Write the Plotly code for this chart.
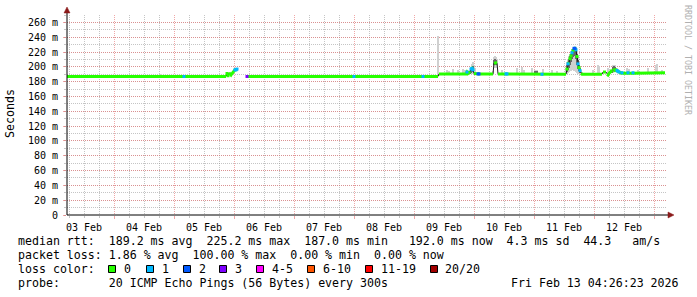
import plotly.graph_objects as go

# ---------------- data ----------------
x_start = "2026-02-03 05:12"
x_end = "2026-02-13 05:12"

# median rtt (ms) with packet-loss level (0 = none, 1, 2, 3 ... pings lost)
med_time = [
    "2026-02-03 05:12", "2026-02-04 18:24", "2026-02-05 03:36", "2026-02-05 04:00", "2026-02-05 04:24",
    "2026-02-05 20:48", "2026-02-05 21:12", "2026-02-05 21:36", "2026-02-05 22:00", "2026-02-05 22:24",
    "2026-02-05 22:48", "2026-02-05 23:12", "2026-02-05 23:36", "2026-02-06 00:00", "2026-02-06 00:24",
    "2026-02-06 00:48", "2026-02-06 01:12", "2026-02-06 03:00",
    "2026-02-06 05:12", "2026-02-06 05:36", "2026-02-07 23:36", "2026-02-08 00:00", "2026-02-08 00:24",
    "2026-02-09 03:12", "2026-02-09 03:36", "2026-02-09 04:00", "2026-02-09 09:36", "2026-02-09 10:00",
    "2026-02-09 20:48", "2026-02-09 21:12", "2026-02-09 21:36", "2026-02-09 22:00", "2026-02-09 22:24",
    "2026-02-09 22:48", "2026-02-09 23:12", "2026-02-09 23:36", "2026-02-10 00:00", "2026-02-10 01:12",
    "2026-02-10 01:36", "2026-02-10 02:00", "2026-02-10 02:24", "2026-02-10 07:36", "2026-02-10 08:00",
    "2026-02-10 08:24", "2026-02-10 08:48", "2026-02-10 09:12", "2026-02-10 09:36", "2026-02-10 12:24",
    "2026-02-10 12:48", "2026-02-10 13:12", "2026-02-10 13:36", "2026-02-11 02:48", "2026-02-11 03:12",
    "2026-02-11 03:36", "2026-02-11 12:48", "2026-02-11 13:12", "2026-02-11 13:36", "2026-02-11 14:00",
    "2026-02-11 14:24", "2026-02-11 14:48", "2026-02-11 15:12", "2026-02-11 15:36", "2026-02-11 16:00",
    "2026-02-11 16:24", "2026-02-11 16:48", "2026-02-11 17:12", "2026-02-11 17:36", "2026-02-11 18:00",
    "2026-02-11 18:24", "2026-02-11 18:48", "2026-02-11 19:12", "2026-02-12 03:12", "2026-02-12 03:36",
    "2026-02-12 04:00", "2026-02-12 04:24", "2026-02-12 04:48", "2026-02-12 05:12", "2026-02-12 05:36",
    "2026-02-12 06:00", "2026-02-12 06:24", "2026-02-12 06:48", "2026-02-12 07:12", "2026-02-12 07:36",
    "2026-02-12 08:00", "2026-02-12 08:24", "2026-02-12 08:48", "2026-02-12 09:12", "2026-02-12 09:36",
    "2026-02-12 10:00", "2026-02-12 10:24", "2026-02-12 10:48", "2026-02-12 11:12", "2026-02-12 11:36",
    "2026-02-12 13:12", "2026-02-12 13:36", "2026-02-12 14:00", "2026-02-12 15:12", "2026-02-12 15:36",
    "2026-02-12 16:00", "2026-02-13 04:24",
]
med_value = [
    187.0, 187.0, 187.0, 187.0, 187.0,
    187.0, 191.0, 188.0, 192.0, 190.0,
    189.0, 191.0, 193.0, 194.0, 196.0,
    196.0, 197.0, None,
    187.0, 187.0, 187.0, 187.0, 187.0,
    187.0, 187.0, 187.0, 187.0, 190.5,
    190.5, 193.0, 191.0, 192.0, 194.0,
    197.0, 198.0, 196.0, 191.0, 190.5,
    190.5, 190.5, 190.5, 190.5, 205.0,
    205.5, 205.5, 205.0, 190.5, 190.5,
    190.5, 190.5, 190.5, 190.0, 190.0,
    190.0, 190.0, 197.0, 204.0, 206.0,
    211.0, 215.0, 219.0, 222.0, 225.0,
    225.0, 223.0, 214.0, 204.0, 199.0,
    195.0, 191.0, 190.0, 190.0, 193.0,
    193.0, 192.0, 193.0, 190.0, 189.0,
    191.0, 193.0, 194.0, 192.0, 195.0,
    196.0, 195.0, 196.0, 195.0, 194.0,
    193.0, 191.5, 191.5, 192.0, 191.5,
    191.5, 192.0, 191.5, 191.5, 192.0,
    191.5, 192.0,
]
med_loss = [
    0, 0, 0, 1, 0,
    0, 0, 0, 0, 0,
    0, 0, 0, 0, 1,
    1, 1, 0,
    3, 0, 0, 1, 0,
    0, 1, 0, 0, 0,
    0, 1, 0, 0, 0,
    1, 1, 1, 0, 0,
    2, 2, 0, 0, 0,
    0, 0, 0, 0, 0,
    1, 1, 0, 0, 1,
    0, 0, 0, 1, 0,
    0, 0, 1, 0, 2,
    2, 1, 0, 1, 0,
    1, 0, 0, 0, 0,
    0, 0, 0, 0, 0,
    0, 0, 0, 0, 0,
    0, 0, 0, 1, 1,
    1, 0, 0, 1, 0,
    0, 1, 0, 0, 1,
    0, 0,
]

# smoke: spread of the 20 pings (outer = min..max, inner = dense core)
smoke_time = [
    "2026-02-04 18:48", "2026-02-09 09:36", "2026-02-09 13:12", "2026-02-09 14:00", "2026-02-09 15:36",
    "2026-02-09 17:36", "2026-02-09 19:36", "2026-02-09 20:24", "2026-02-09 22:24", "2026-02-09 22:48",
    "2026-02-09 23:12", "2026-02-09 23:36", "2026-02-10 00:00", "2026-02-10 00:24", "2026-02-10 07:36",
    "2026-02-10 08:00", "2026-02-10 08:24", "2026-02-10 08:48", "2026-02-10 09:12", "2026-02-10 11:12",
    "2026-02-10 17:12", "2026-02-10 19:12", "2026-02-10 20:00", "2026-02-10 23:12", "2026-02-11 00:24",
    "2026-02-11 00:48", "2026-02-11 01:12", "2026-02-11 03:36", "2026-02-11 07:12", "2026-02-11 09:12",
    "2026-02-11 12:48", "2026-02-11 13:12", "2026-02-11 13:36", "2026-02-11 14:00", "2026-02-11 14:24",
    "2026-02-11 14:48", "2026-02-11 15:12", "2026-02-11 15:36", "2026-02-11 16:00", "2026-02-11 16:24",
    "2026-02-11 16:48", "2026-02-11 17:12", "2026-02-11 17:36", "2026-02-11 18:00", "2026-02-11 18:24",
    "2026-02-11 18:48", "2026-02-11 19:12", "2026-02-11 23:36", "2026-02-12 01:36", "2026-02-12 02:00",
    "2026-02-12 05:36", "2026-02-12 07:36", "2026-02-12 08:00", "2026-02-12 08:24", "2026-02-12 09:12",
    "2026-02-12 13:12", "2026-02-12 14:00", "2026-02-12 17:36", "2026-02-12 21:36", "2026-02-13 00:48",
    "2026-02-13 01:12", "2026-02-13 03:12",
]
smoke_lo = [
    187, 187, 190.5, 190.5, 190.5,
    190.5, 190.5, 190.5, 190, 190,
    190, 190, 190, 190, 190.5,
    200, 198, 200, 199, 190.5,
    190.5, 190, 190, 190, 189,
    189, 189, 190, 190, 190,
    190, 191, 192, 193, 194,
    195, 196, 196, 195, 194,
    193, 192, 191, 190, 190,
    189, 189, 190, 190, 190,
    190, 192, 193, 193, 192,
    191.5, 191.5, 191.5, 191.5, 191.5,
    191.5, 191.5,
]
smoke_hi = [
    191, 242, 196, 195, 197,
    196, 197, 196, 196, 198,
    204, 206, 203, 198, 195,
    213, 214, 213, 210, 196,
    198, 200, 196, 199, 196,
    196, 196, 197, 196, 195,
    198, 206, 210, 214, 218,
    221, 224, 226, 227, 227,
    226, 222, 214, 207, 201,
    196, 193, 196, 202, 201,
    199, 202, 203, 202, 199,
    198, 197, 196, 198, 203,
    204, 196,
]
smoke_in_lo = [
    None, None, None, None, None,
    None, None, None, 191, 192,
    194, 193, None, None, None,
    203, 203, 203, None, None,
    None, None, None, None, 190,
    190, 190, None, None, None,
    None, 193, 196, 198, 202,
    206, 210, 213, 215, 214,
    210, 203, 197, 194, 192,
    None, None, None, None, None,
    None, 194, 195, 195, None,
    None, None, None, None, None,
    None, None,
]
smoke_in_hi = [
    None, None, None, None, None,
    None, None, None, 195, 196,
    200, 201, None, None, None,
    209, 210, 209, None, None,
    None, None, None, None, 195,
    195, 195, None, None, None,
    None, 203, 207, 211, 215,
    218, 222, 224, 226, 226,
    224, 218, 209, 203, 198,
    None, None, None, None, None,
    None, 200, 201, 200, None,
    None, None, None, None, None,
    None, None,
]

y_tick_vals = [0, 20, 40, 60, 80, 100, 120, 140, 160, 180, 200, 220, 240, 260]
y_tick_text = ["0", "20 m", "40 m", "60 m", "80 m", "100 m", "120 m", "140 m", "160 m",
               "180 m", "200 m", "220 m", "240 m", "260 m"]

loss_labels = ["0", "1", "2", "3", "4-5", "6-10", "11-19", "20/20"]
loss_colors = ["#26ff00", "#00b8ff", "#0059ff", "#7e00ff", "#ff00ff", "#ff5500", "#ff0000", "#a10000"]

legend_lines = [
    "median rtt:  189.2 ms avg  225.2 ms max  187.0 ms min   192.0 ms now  4.3 ms sd  44.3   am/s",
    "packet loss: 1.86 % avg  100.00 % max  0.00 % min  0.00 % now",
    "loss color:",
    "probe:       20 ICMP Echo Pings (56 Bytes) every 300s",
]
stamp_text = "Fri Feb 13 04:26:23 2026"
watermark = "RRDTOOL / TOBI OETIKER"
y_title = "Seconds"

# ---------------- layout helpers (pixel -> paper) ----------------
W, H = 697, 297
PL, PR, PT, PB = 67, 667, 15, 215


def xp(px):
    return (px - PL) / (PR - PL)


def yp(py):
    return (PB - py) / (PB - PT)


MONO = "DejaVu Sans Mono"
PIX_MS = 24 * 60 * 1000  # one pixel column = 24 minutes
STEP = 2.5               # larger jumps are drawn only by the thin median line

fig = go.Figure()

# smoke (outer)
fig.add_trace(go.Bar(
    x=smoke_time, base=smoke_lo, y=[h - l for h, l in zip(smoke_hi, smoke_lo)],
    width=[PIX_MS * 1.2] * len(smoke_time), marker=dict(color="#d0d0d0", line=dict(width=0)),
    hoverinfo="skip"))
# smoke (inner core)
in_x = [t for t, a in zip(smoke_time, smoke_in_lo) if a is not None]
in_lo = [a for a in smoke_in_lo if a is not None]
in_hi = [b for b in smoke_in_hi if b is not None]
fig.add_trace(go.Bar(
    x=in_x, base=in_lo, y=[h - l for h, l in zip(in_hi, in_lo)],
    width=[PIX_MS * 1.2] * len(in_x), marker=dict(color="#686868", line=dict(width=0)),
    hoverinfo="skip"))

# thin dark median line
fig.add_trace(go.Scatter(x=med_time, y=med_value, mode="lines",
                         line=dict(color="#1a1a1a", width=1), connectgaps=False, hoverinfo="skip"))


def linked(i, j):
    if j < 0 or j >= len(med_value):
        return False
    a, b = med_value[i], med_value[j]
    return a is not None and b is not None and abs(a - b) <= STEP


# thick green band (connect only small steps)
gx, gy = [], []
for i in range(len(med_time)):
    v = med_value[i]
    if v is None:
        gx.append(None); gy.append(None)
        continue
    if i > 0 and not linked(i, i - 1):
        gx.append(None); gy.append(None)
    gx.append(med_time[i]); gy.append(v)
fig.add_trace(go.Scatter(x=gx, y=gy, mode="lines", line=dict(color=loss_colors[0], width=3),
                         connectgaps=False, hoverinfo="skip"))

for lvl in range(len(loss_colors)):
    idx = [i for i in range(len(med_time))
           if med_loss[i] == lvl and med_value[i] is not None
           and (lvl > 0 or not (linked(i, i - 1) or linked(i, i + 1)))]
    if idx:
        fig.add_trace(go.Scatter(x=[med_time[i] for i in idx], y=[med_value[i] for i in idx],
                                 mode="markers",
                                 marker=dict(symbol="square", size=3, color=loss_colors[lvl],
                                             line=dict(width=0)),
                                 hoverinfo="skip"))

grid_major = "rgba(230,110,110,0.6)"
grid_minor = "rgba(140,140,140,0.5)"

fig.update_layout(
    width=W, height=H,
    margin=dict(l=PL, r=W - PR, t=PT, b=H - PB),
    paper_bgcolor="white", plot_bgcolor="white",
    showlegend=False, barmode="overlay", bargap=0,
    font=dict(family=MONO, size=10, color="#000000"),
    xaxis=dict(
        type="date", range=[x_start, x_end],
        tick0="2026-02-03", dtick=86400000, tickformat="%d %b", ticklabelmode="period",
        showgrid=True, gridcolor=grid_major, griddash="1px,1px", gridwidth=1,
        ticks="outside", ticklen=3, tickcolor=grid_major,
        tickfont=dict(family=MONO, size=10, color="#000000"),
        showline=False, zeroline=False,
        minor=dict(dtick=21600000, tick0="2026-02-03", showgrid=True, gridcolor=grid_minor,
                   griddash="1px,1px", ticks="outside", ticklen=2, tickcolor=grid_minor),
    ),
    yaxis=dict(
        range=[0, 270], tickvals=y_tick_vals, ticktext=y_tick_text,
        showgrid=True, gridcolor=grid_major, griddash="1px,1px", gridwidth=1,
        ticks="outside", ticklen=3, tickcolor=grid_major,
        tickfont=dict(family=MONO, size=10, color="#000000"),
        showline=False, zeroline=False, ticklabelstandoff=3,
        minor=dict(dtick=10, showgrid=True, gridcolor=grid_minor, griddash="1px,1px",
                   ticks="outside", ticklen=2, tickcolor=grid_minor),
    ),
)

shapes = []
# axis lines
shapes.append(dict(type="line", xref="paper", yref="paper", x0=0, x1=0, y0=0, y1=yp(12),
                   line=dict(color="#000000", width=1)))
shapes.append(dict(type="line", xref="paper", yref="paper", x0=0, x1=xp(669), y0=0, y1=0,
                   line=dict(color="#000000", width=1)))
# arrow heads
shapes.append(dict(type="path", xref="paper", yref="paper",
                   path=f"M {xp(64)},{yp(13)} L {xp(70)},{yp(13)} L {xp(67)},{yp(7)} Z",
                   fillcolor="#8b1a1a", line=dict(color="#8b1a1a", width=0.5)))
shapes.append(dict(type="path", xref="paper", yref="paper",
                   path=f"M {xp(668)},{yp(212)} L {xp(668)},{yp(218)} L {xp(674)},{yp(215)} Z",
                   fillcolor="#8b1a1a", line=dict(color="#8b1a1a", width=0.5)))

# loss colour boxes
box_x = [108, 146, 183, 219, 256, 307, 365, 430]
for bx, col in zip(box_x, loss_colors):
    shapes.append(dict(type="rect", xref="paper", yref="paper",
                       x0=xp(bx + 0.5), x1=xp(bx + 7.5), y0=yp(265.5), y1=yp(272.5),
                       fillcolor=col, line=dict(color="#000000", width=1)))
fig.update_layout(shapes=shapes)

NB = "\u00a0"
ann = []
line_y = [241, 255, 269, 283]
for txt, ly in zip(legend_lines, line_y):
    ann.append(dict(text=txt.replace(" ", NB), xref="paper", yref="paper", x=xp(15.5), y=yp(ly),
                    xanchor="left", yanchor="middle", showarrow=False,
                    font=dict(family=MONO, size=11.6, color="#000000")))
for bx, lab in zip(box_x, loss_labels):
    ann.append(dict(text=lab, xref="paper", yref="paper", x=xp(bx + 13.5), y=yp(269),
                    xanchor="left", yanchor="middle", showarrow=False,
                    font=dict(family=MONO, size=11.6, color="#000000")))
ann.append(dict(text=stamp_text.replace(" ", NB), xref="paper", yref="paper", x=xp(681), y=yp(283),
                xanchor="right", yanchor="middle", showarrow=False,
                font=dict(family=MONO, size=11.6, color="#000000")))
ann.append(dict(text=y_title, xref="paper", yref="paper", x=xp(10), y=yp(114), textangle=-90,
                xanchor="center", yanchor="middle", showarrow=False,
                font=dict(family=MONO, size=11.6, color="#000000")))
ann.append(dict(text=watermark.replace(" ", NB), xref="paper", yref="paper", x=xp(688), y=yp(60),
                textangle=90, xanchor="center", yanchor="middle", showarrow=False,
                font=dict(family=MONO, size=8.3, color="#b0b0b0")))
fig.update_layout(annotations=ann)

fig.write_html("out.html")
